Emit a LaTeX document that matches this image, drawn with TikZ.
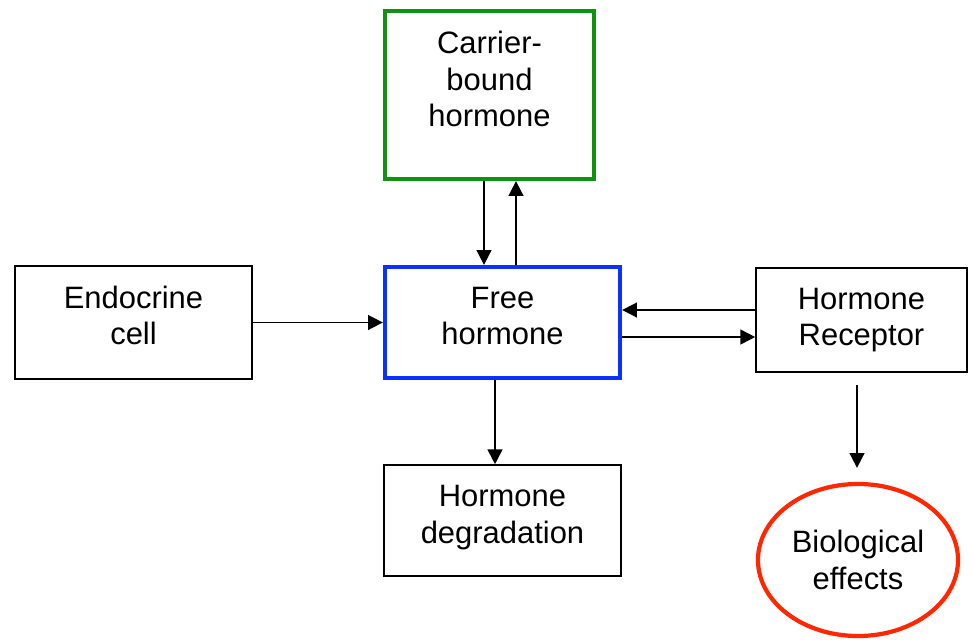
\documentclass[tikz,border=0pt]{standalone}
\usepackage{fontspec}
\setmainfont{Liberation Sans}
\usetikzlibrary{arrows.meta, shapes.geometric}

\definecolor{carriergreen}{RGB}{16,145,16}
\definecolor{freeblue}{RGB}{10,50,255}
\definecolor{effectred}{RGB}{255,40,0}

\begin{document}
\begin{tikzpicture}[
    >={Triangle[length=10.5pt, width=10.5pt]}, x=0.025cm, y=-0.025cm,
    txt/.style={align=center, inner sep=0pt, font=\fontsize{22}{26}\selectfont},
    box/.style={txt, draw, line width=1.1pt},
    thickbox/.style={box, line width=3pt},
    conn/.style={->, line width=1.2pt}
  ]
  \useasboundingbox (0,0) rectangle (974,639);

  \node[thickbox, draw=carriergreen, minimum width=5.225cm, minimum height=4.2cm] (carrier) at (489.5,95) {};
  \node[txt] (carriertxt) at ([yshift=0.4cm]carrier.center) {Carrier-\\bound\\hormone};
  \node[box, minimum width=5.925cm, minimum height=2.825cm] (endo) at (133.5,322.5) {};
  \node[txt] (endotxt) at ([yshift=0.175cm]endo.center) {Endocrine\\cell};
  \node[thickbox, draw=freeblue, minimum width=5.875cm, minimum height=2.775cm] (free) at (502.5,322.5) {};
  \node[txt] (freetxt) at ([yshift=0.16cm]free.center) {Free\\hormone};
  \node[box, minimum width=5.275cm, minimum height=2.6cm] (rec) at (861.5,320) {Hormone\\Receptor};
  \node[box, minimum width=5.925cm, minimum height=2.775cm] (degr) at (502.5,520.5) {};
  \node[txt] (degrtxt) at ([yshift=0.075cm]degr.center) {Hormone\\degradation};
  \node[txt, ellipse, draw=effectred, line width=3pt, minimum width=5cm, minimum height=3.8cm] (bio) at (858,560) {Biological\\effects};

  % carrier <-> free
  \draw[conn] ([xshift=-0.1375cm]carrier.south) -- ([xshift=-0.1375cm]carrier.south |- free.north);
  \draw[conn] ([xshift=0.6625cm]carrier.south |- free.north) -- ([xshift=0.6625cm]carrier.south);
  \draw[conn] (endo.east) -- (free.west);
  % free <-> receptor
  \draw[conn] ([yshift=0.25cm]rec.west) -- ([yshift=0.25cm]rec.west -| free.east);
  \draw[conn] ([yshift=-0.425cm]rec.west -| free.east) -- ([yshift=-0.425cm]rec.west);
  \draw[conn] ([xshift=-0.1875cm]free.south) -- ([xshift=-0.1875cm]free.south |- degr.north);
  \draw[conn, shorten <=0.3cm, shorten >=0.35cm] ([xshift=-0.1125cm]rec.south) -- ([xshift=-0.1125cm]rec.south |- bio.north);
\end{tikzpicture}
\end{document}
